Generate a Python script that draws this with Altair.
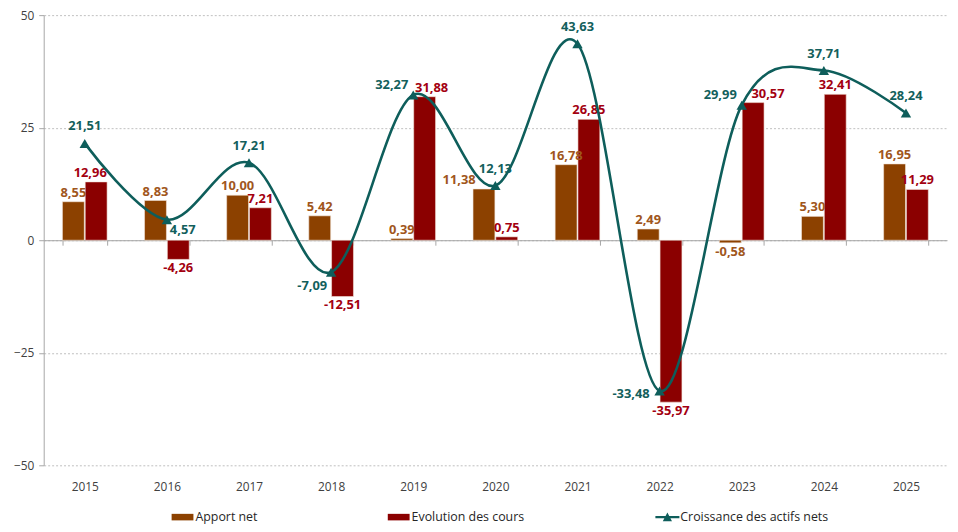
import altair as alt
import pandas as pd

years = ["2015", "2016", "2017", "2018", "2019", "2020", "2021", "2022", "2023", "2024", "2025"]
apport_net = [8.55, 8.83, 10.00, 5.42, 0.39, 11.38, 16.78, 2.49, -0.58, 5.30, 16.95]
evolution_cours = [12.96, -4.26, 7.21, -12.51, 31.88, 0.75, 26.85, -35.97, 30.57, 32.41, 11.29]
croissance = [21.51, 4.57, 17.21, -7.09, 32.27, 12.13, 43.63, -33.48, 29.99, 37.71, 28.24]

S_APPORT = "Apport net"
S_EVOL = "Evolution des cours"
S_CROISS = "Croissance des actifs nets"
series_names = [S_APPORT, S_EVOL, S_CROISS]

# placement style of the line labels (by year)
line_label_place = {
    "above": ["2015", "2017", "2020", "2021", "2024", "2025"],
    "below_right": ["2016"],
    "lower_left": ["2018"],
    "left": ["2022"],
    "upper_left": ["2019", "2023"],
}
place_style = {
    "above": dict(align="center", baseline="middle", dx=0, dy=-17),
    "below_right": dict(align="left", baseline="middle", dx=3, dy=10),
    "lower_left": dict(align="right", baseline="middle", dx=-4, dy=14),
    "left": dict(align="right", baseline="middle", dx=-10, dy=3),
    "upper_left": dict(align="right", baseline="middle", dx=-5, dy=-10),
}
# horizontal nudges (px) of some bar labels, as placed in the original
bar_label_nudge = {
    ("2015", S_EVOL): -6,
    ("2019", S_EVOL): 7,
    ("2020", S_APPORT): -25,
    ("2023", S_EVOL): 15,
}

FONT = "Open Sans"
C_BROWN = "#8C4100"
C_RED = "#8B0000"
C_TEAL = "#0E5E5B"
T_BROWN = "#A0561C"
T_RED = "#A30010"
T_TEAL = "#135F5C"


def fr(v):
    return f"{v:.2f}".replace(".", ",")


bars_df = pd.DataFrame({
    "year": years * 2,
    "series": [S_APPORT] * len(years) + [S_EVOL] * len(years),
    "value": apport_net + evolution_cours,
})
bars_df["label"] = bars_df["value"].map(fr)

line_df = pd.DataFrame({"year": years, "value": croissance})
line_df["label"] = line_df["value"].map(fr)
place_of = {y: k for k, ys in line_label_place.items() for y in ys}
line_df["place"] = line_df["year"].map(place_of)

legend_df = pd.DataFrame({"series": series_names})

W, H = 911, 454

x_enc = alt.X(
    "year:N",
    sort=years,
    title=None,
    scale=alt.Scale(paddingInner=0.456, paddingOuter=0.228),
    axis=alt.Axis(
        orient="bottom",
        offset=-H / 2,
        tickBand="extent",
        tickSize=5,
        tickColor="#a6a6a6",
        domainColor="#a6a6a6",
        domainWidth=1,
        labelPadding=H / 2 + 11,
        labelAngle=0,
        labelFont=FONT,
        labelFontSize=12,
        labelColor="#404040",
        grid=False,
    ),
)
y_enc = alt.Y(
    "value:Q",
    title=None,
    scale=alt.Scale(domain=[-50, 50], nice=False),
    axis=alt.Axis(
        values=[-50, -25, 0, 25, 50],
        grid=True,
        gridDash=[2, 2],
        gridColor="#bfbfbf",
        domainColor="#a6a6a6",
        tickColor="#a6a6a6",
        tickSize=5,
        labelPadding=5,
        labelFont=FONT,
        labelFontSize=12,
        labelColor="#404040",
    ),
)
xoff = alt.XOffset("series:N", sort=[S_APPORT, S_EVOL],
                   scale=alt.Scale(domain=[S_APPORT, S_EVOL], paddingInner=0.04))

color_scale = alt.Scale(domain=series_names, range=[C_BROWN, C_RED, C_TEAL])
shape_scale = alt.Scale(
    domain=series_names,
    range=[
        "M-1,-0.3H1V0.3H-1Z",
        "M-1,-0.3H1V0.3H-1Z",
        "M-1.1,-0.1H1.1V0.1H-1.1Z M-0.42,0.38L0,-0.42L0.42,0.38Z",
    ],
)

leg = alt.Legend(
    title=None, orient="none", direction="horizontal",
    legendX=129, legendY=495,
    columnPadding=131, symbolSize=484, symbolStrokeWidth=0, symbolOpacity=1,
    symbolFillColor=C_TEAL,
    labelFont=FONT, labelFontSize=12.5, labelColor="#262626", labelOffset=2,
    padding=0,
)

legend_proxy = alt.Chart(legend_df).mark_point(filled=True, opacity=0).encode(
    x=alt.value(0), y=alt.value(0),
    color=alt.Color("series:N", scale=color_scale, legend=leg),
    shape=alt.Shape("series:N", scale=shape_scale, legend=leg),
)

bars = alt.Chart(bars_df).mark_bar(stroke="#f3e6dc", strokeWidth=0.6).encode(
    x=x_enc, xOffset=xoff, y=y_enc,
    color=alt.Color("series:N", scale=color_scale, legend=leg),
)

nudge_expr = " || ".join(
    f"(datum.year == '{y}' && datum.series == '{s}')" for (y, s) in bar_label_nudge
)

bar_labels = []
for s, tc in [(S_APPORT, T_BROWN), (S_EVOL, T_RED)]:
    for sign in ["pos", "neg"]:
        cond = f"datum.series == '{s}' && datum.value {'>=' if sign == 'pos' else '<'} 0 && !({nudge_expr})"
        bar_labels.append(
            alt.Chart(bars_df).mark_text(
                font=FONT, fontSize=13, fontWeight="bold", color=tc,
                baseline="bottom" if sign == "pos" else "top",
                dy=-2 if sign == "pos" else 3,
            ).encode(x=x_enc, xOffset=xoff, y=y_enc, text="label:N").transform_filter(cond)
        )
for (yr, s), ndx in bar_label_nudge.items():
    v = bars_df[(bars_df.year == yr) & (bars_df.series == s)]["value"].iloc[0]
    bar_labels.append(
        alt.Chart(bars_df).mark_text(
            font=FONT, fontSize=13, fontWeight="bold",
            color=T_BROWN if s == S_APPORT else T_RED,
            baseline="bottom" if v >= 0 else "top",
            dy=-2 if v >= 0 else 3, dx=ndx,
        ).encode(x=x_enc, xOffset=xoff, y=y_enc, text="label:N")
        .transform_filter(f"datum.year == '{yr}' && datum.series == '{s}'")
    )

line = alt.Chart(line_df).mark_line(interpolate="cardinal", strokeWidth=2.6, color=C_TEAL).encode(
    x=x_enc, y=y_enc
)
tri = alt.Chart(line_df).mark_point(shape="triangle-up", filled=True, size=110, opacity=1, color=C_TEAL).encode(
    x=x_enc, y=y_enc
)

line_labels = [
    alt.Chart(line_df).mark_text(font=FONT, fontSize=13, fontWeight="bold", color=T_TEAL, **st)
    .encode(x=x_enc, y=y_enc, text="label:N")
    .transform_filter(f"datum.place == '{k}'")
    for k, st in place_style.items()
]

chart = alt.layer(legend_proxy, bars, *bar_labels, line, tri, *line_labels).properties(
    width=W, height=H,
    autosize=alt.AutoSizeParams(type="none"),
    padding={"left": 36, "top": 5, "right": 3, "bottom": 57},
    background="white",
).configure_view(stroke=None)

chart.save("out.html", embed_options={"renderer": "svg", "actions": False})
